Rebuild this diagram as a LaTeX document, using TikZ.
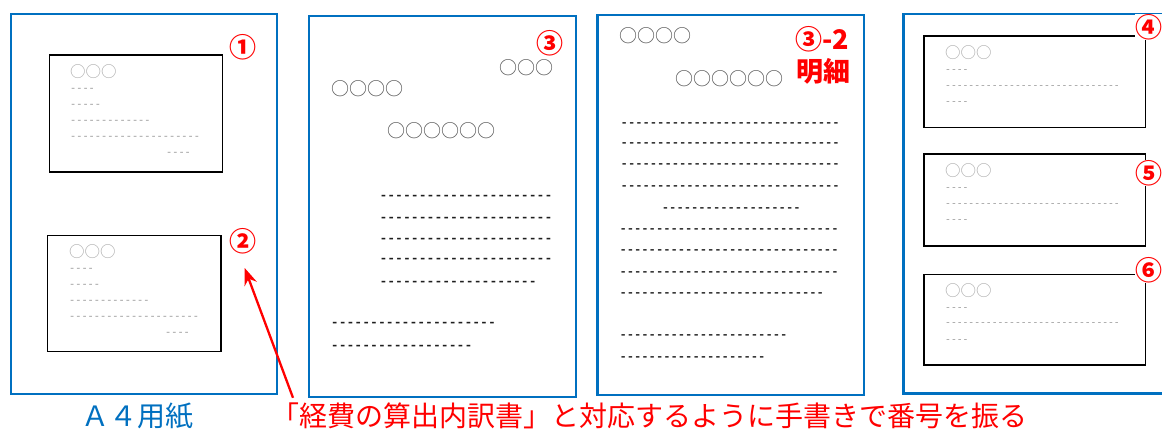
\documentclass[tikz,border=0pt]{standalone}
\usepackage{fontspec}
\setmainfont{Noto Sans CJK JP}
\newfontfamily\jp{Noto Sans CJK JP}
\newfontfamily\mono{Liberation Mono}
\usetikzlibrary{arrows.meta}
\definecolor{pageblue}{RGB}{0,112,192}
\definecolor{cgray}{RGB}{150,150,150}
\definecolor{dgray}{RGB}{85,85,85}
\definecolor{dline}{RGB}{30,30,30}
\definecolor{myred}{RGB}{255,0,0}
\newcommand\Dash[1]{\foreach \i in {1,...,#1}{-\kern0pt}}
\tikzset{
  pagebox/.style={draw=pageblue, line width=2.4pt, anchor=north west, inner sep=0pt, outer sep=0pt},
  cardbox/.style={draw=black, line width=1.2pt, fill=white, anchor=north west, inner sep=0pt, outer sep=0pt},
  cardo/.style={font=\jp\fontsize{15.5}{15.5}\selectfont, text=cgray!80, inner sep=0pt, anchor=west, text height=13.6pt, text depth=1.9pt},
  pageo/.style={font=\jp\fontsize{18}{18}\selectfont, text=dgray, inner sep=0pt, anchor=west, text height=15.8pt, text depth=2.2pt},
  cdash/.style={font=\mono\fontsize{10.3}{10.3}\selectfont, text=cgray, inner sep=0pt, anchor=west, text height=5.8pt, text depth=0pt},
  kdash/.style={font=\mono\fontsize{9.7}{9.7}\selectfont, text=cgray, inner sep=0pt, anchor=west, text height=5.4pt, text depth=0pt},
  bdash/.style={font=\mono\bfseries\fontsize{13.1}{13.1}\selectfont, text=dline, inner sep=0pt, anchor=west, text height=7.3pt, text depth=0pt},
  tdash/.style={font=\mono\bfseries\fontsize{12.17}{12.17}\selectfont, text=dline, inner sep=0pt, anchor=west, text height=6.8pt, text depth=0pt},
  num/.style={font=\jp\bfseries\fontsize{27}{27}\selectfont, text=myred, inner sep=0pt},
  caption/.style={font=\jp\fontsize{28}{28}\selectfont, inner sep=0pt, text height=24.6pt, text depth=3.4pt},
  arr/.style={draw=myred, line width=2.3pt, -{Stealth[length=17pt, width=13pt]}}
}
\begin{document}
\begin{tikzpicture}[x=1pt, y=-1pt]
\useasboundingbox (0,0) rectangle (1162,430);
\clip (0,0) rectangle (1162,430);
\fill[white] (0,0) rectangle (1162,430);

% ---------- page 1 ----------
\node[pagebox, minimum width=266.3pt, minimum height=380pt] (p1) at (10.7,14) {};
\node[cardbox, minimum width=173pt, minimum height=117pt] (c1) at (49.3,55) {};
\node[cardo] (c1o) at (70,71.5) {○○○};
\node[cdash] (c1a) at (70,89) {\Dash{4}};
\node[cdash] (c1b) at (70,105) {\Dash{5}};
\node[cdash] (c1c) at (70,120.7) {\Dash{13}};
\node[cdash] (c1d) at (70,136.7) {\Dash{21}};
\node[cdash] (c1e) at (166,152.7) {\Dash{4}};
\node[num] (n1) at (242.7,47) {①};

\node[cardbox, minimum width=173.3pt, minimum height=116pt] (c2) at (47.7,235.7) {};
\node[cardo] (c2o) at (69,251.5) {○○○};
\node[cdash] (c2a) at (69,268.3) {\Dash{4}};
\node[cdash] (c2b) at (69,285) {\Dash{5}};
\node[cdash] (c2c) at (69,300.7) {\Dash{13}};
\node[cdash] (c2d) at (69,316.3) {\Dash{21}};
\node[cdash] (c2e) at (165,332.7) {\Dash{4}};
\node[num] (n2) at (242.7,241) {②};

\node[caption, text=pageblue, anchor=west] (a4) at (81,416) {Ａ４用紙};

% ---------- page 2 ----------
\node[pagebox, minimum width=266.7pt, minimum height=380.7pt] (p2) at (309,16) {};
\node[num] (n3) at (550,43) {③};
\node[pageo] (p2a) at (499.3,67.7) {○○○};
\node[pageo] (p2b) at (331,88.7) {○○○○};
\node[pageo] (p2c) at (387.3,131) {○○○○○○};
\node[bdash] (p2d1) at (379.3,195.7) {\Dash{22}};
\node[bdash] (p2d2) at (379.3,217.7) {\Dash{22}};
\node[bdash] (p2d3) at (379.3,239) {\Dash{22}};
\node[bdash] (p2d4) at (379.3,259.3) {\Dash{22}};
\node[bdash] (p2d5) at (379.3,281.7) {\Dash{20}};
\node[bdash] (p2d6) at (330.7,323.3) {\Dash{21}};
\node[bdash] (p2d7) at (330.7,345.7) {\Dash{18}};

% ---------- page 3 ----------
\node[pagebox, minimum width=266.7pt, minimum height=380pt] (p3) at (597.3,15) {};
\node[pageo] (p3a) at (619.3,35.7) {○○○○};
\node[pageo] (p3b) at (675.7,78.7) {○○○○○○};
\node[num, anchor=west] (n32) at (795,39) {③-2};
\node[num, anchor=west] (meisai) at (796,71.5) {明細};
\node[tdash] (p3d1) at (620.5,122.7) {\Dash{30}};
\node[tdash] (p3d2) at (620.5,143.3) {\Dash{30}};
\node[tdash] (p3d3) at (620.5,164.3) {\Dash{30}};
\node[tdash] (p3d4) at (620.5,186) {\Dash{30}};
\node[tdash] (p3d5) at (661.7,208.3) {\Dash{19}};
\node[tdash] (p3d6) at (619.3,229) {\Dash{30}};
\node[tdash] (p3d7) at (619.3,250) {\Dash{30}};
\node[tdash] (p3d8) at (619.3,271.7) {\Dash{30}};
\node[tdash] (p3d9) at (619.3,292.7) {\Dash{28}};
\node[tdash] (p3d10) at (619.3,335) {\Dash{23}};
\node[tdash] (p3d11) at (619.3,356.7) {\Dash{20}};

% ---------- page 4 ----------
\node[pagebox, minimum width=271.7pt, minimum height=379.3pt] (p4) at (903.3,14) {};
\node[cardbox, minimum width=221.7pt, minimum height=91.3pt] (c4) at (924,36) {};
\node[cardo] (c4o) at (945,52.7) {○○○};
\node[kdash] (c4a) at (945,70) {\Dash{4}};
\node[kdash] (c4b) at (945,86) {\Dash{30}};
\node[kdash] (c4c) at (945,101.7) {\Dash{4}};
\node[num, fill=white] (n4) at (1148.5,27) {④};

\node[cardbox, minimum width=221.7pt, minimum height=92pt] (c5) at (924,154) {};
\node[cardo] (c5o) at (945,170.7) {○○○};
\node[kdash] (c5a) at (945,188) {\Dash{4}};
\node[kdash] (c5b) at (945,204) {\Dash{30}};
\node[kdash] (c5c) at (945,219.7) {\Dash{4}};
\node[num, fill=white] (n5) at (1148.5,173) {⑤};

\node[cardbox, minimum width=221.7pt, minimum height=90.7pt] (c6) at (924,274.3) {};
\node[cardo] (c6o) at (945,291) {○○○};
\node[kdash] (c6a) at (945,307.7) {\Dash{4}};
\node[kdash] (c6b) at (945,323.3) {\Dash{30}};
\node[kdash] (c6c) at (945,339.3) {\Dash{4}};
\node[num, fill=white] (n6) at (1148.5,270) {⑥};

% ---------- note and arrow ----------
\node[caption, text=myred, anchor=west] (note) at (271,416) {「経費の算出内訳書」と対応するように手書きで番号を振る};
\draw[arr] ([xshift=22pt, yshift=4pt]note.north west) -- ([xshift=2pt, yshift=-14pt]n2.south);
\end{tikzpicture}
\end{document}
